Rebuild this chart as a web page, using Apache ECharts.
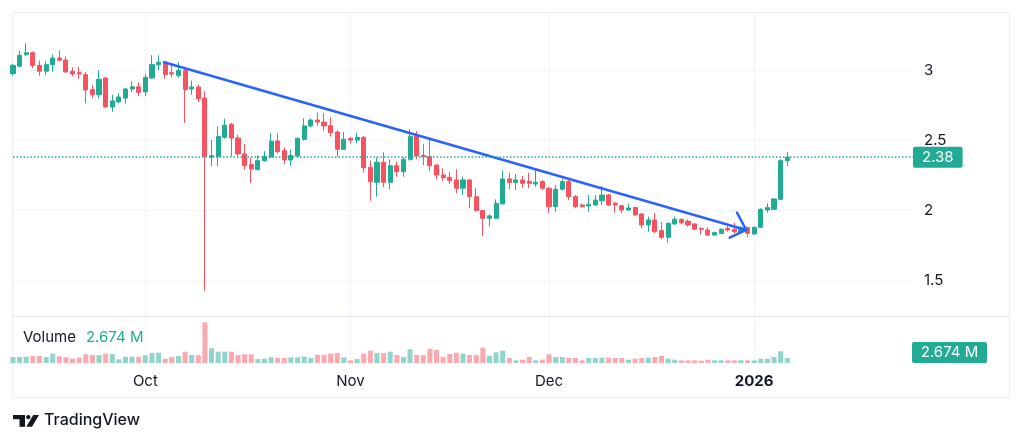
<!DOCTYPE html>
<html>
<head>
    <meta charset="UTF-8">
    <title>Daily candles with volume</title>
    <script src="https://cdn.jsdelivr.net/npm/echarts@6.0.0/dist/echarts.min.js"></script>
    <style>html,body{margin:0;padding:0;background:#fff;}</style>
</head>
<body>

<div id="main" style="width:1024px;height:445px"></div>

<script type="text/javascript">
    // one candle per calendar day, first one is 2025-09-11
    var firstDay = [2025, 8, 11];
    var dayCount = 137;   // empty days are kept on the right side
    var tickDates = ['2025-10-01', '2025-11-01', '2025-12-01', '2026-01-01'];
    var tickLabels = ['Oct', 'Nov', 'Dec', '2026'];

    // [open, close, low, high]
    var ohlc = [
        [2.974, 3.033, 2.960, 3.045], [3.027, 3.105, 3.019, 3.137], [3.109, 3.123, 3.097, 3.190], [3.123, 3.033, 3.014, 3.133],
        [3.033, 2.991, 2.960, 3.066], [2.991, 3.038, 2.964, 3.062], [3.038, 3.085, 2.988, 3.109], [3.085, 3.069, 3.062, 3.140],
        [3.071, 2.986, 2.981, 3.097], [2.991, 2.972, 2.955, 3.019], [2.981, 2.972, 2.938, 3.023], [2.967, 2.858, 2.763, 2.986],
        [2.860, 2.824, 2.800, 2.895], [2.824, 2.934, 2.800, 2.998], [2.943, 2.737, 2.735, 2.950], [2.737, 2.780, 2.703, 2.824],
        [2.773, 2.808, 2.765, 2.836], [2.800, 2.865, 2.760, 2.872], [2.865, 2.880, 2.841, 2.920], [2.880, 2.841, 2.813, 2.912],
        [2.844, 2.948, 2.813, 2.972], [2.943, 3.038, 2.938, 3.105], [3.038, 3.055, 3.000, 3.105], [3.057, 2.967, 2.938, 3.062],
        [2.981, 2.972, 2.948, 3.043], [2.962, 2.998, 2.943, 3.057], [2.995, 2.860, 2.623, 3.014], [2.865, 2.879, 2.824, 2.924],
        [2.879, 2.796, 2.772, 2.895], [2.800, 2.386, 1.430, 2.848], [2.380, 2.390, 2.315, 2.504], [2.386, 2.526, 2.315, 2.600],
        [2.521, 2.607, 2.511, 2.654], [2.614, 2.516, 2.386, 2.623], [2.516, 2.403, 2.386, 2.540], [2.403, 2.320, 2.290, 2.474],
        [2.327, 2.296, 2.196, 2.374], [2.290, 2.355, 2.289, 2.393], [2.355, 2.386, 2.346, 2.422], [2.381, 2.493, 2.379, 2.552],
        [2.495, 2.419, 2.408, 2.550], [2.426, 2.360, 2.331, 2.450], [2.360, 2.391, 2.320, 2.431], [2.388, 2.514, 2.383, 2.519],
        [2.507, 2.602, 2.497, 2.656], [2.602, 2.644, 2.592, 2.656], [2.644, 2.630, 2.602, 2.699], [2.630, 2.602, 2.568, 2.692],
        [2.604, 2.554, 2.526, 2.664], [2.559, 2.436, 2.383, 2.573], [2.436, 2.507, 2.431, 2.559], [2.512, 2.502, 2.479, 2.526],
        [2.502, 2.521, 2.479, 2.554], [2.521, 2.305, 2.270, 2.531], [2.308, 2.206, 2.070, 2.355], [2.201, 2.344, 2.099, 2.379],
        [2.344, 2.201, 2.166, 2.415], [2.201, 2.319, 2.151, 2.365], [2.319, 2.277, 2.241, 2.348], [2.277, 2.365, 2.241, 2.379],
        [2.365, 2.526, 2.355, 2.578], [2.531, 2.388, 2.365, 2.566], [2.393, 2.383, 2.324, 2.472], [2.383, 2.319, 2.282, 2.519],
        [2.324, 2.253, 2.223, 2.329], [2.253, 2.234, 2.210, 2.301], [2.237, 2.213, 2.189, 2.277], [2.218, 2.159, 2.123, 2.294],
        [2.159, 2.218, 2.111, 2.241], [2.218, 2.099, 2.016, 2.225], [2.099, 2.000, 1.992, 2.159], [2.000, 1.945, 1.819, 2.004],
        [1.945, 1.962, 1.886, 1.976], [1.945, 2.052, 1.940, 2.080], [2.047, 2.225, 2.045, 2.284], [2.225, 2.199, 2.151, 2.270],
        [2.199, 2.218, 2.146, 2.260], [2.218, 2.194, 2.163, 2.246], [2.206, 2.194, 2.159, 2.270], [2.189, 2.201, 2.170, 2.290],
        [2.206, 2.159, 2.146, 2.218], [2.159, 2.028, 1.985, 2.170], [2.028, 2.152, 1.992, 2.182], [2.152, 2.206, 2.142, 2.223],
        [2.206, 2.099, 2.075, 2.218], [2.099, 2.028, 2.016, 2.111], [2.040, 2.028, 2.021, 2.052], [2.033, 2.045, 1.992, 2.111],
        [2.040, 2.075, 2.033, 2.111], [2.070, 2.111, 2.040, 2.175], [2.111, 2.040, 2.033, 2.118], [2.052, 2.040, 1.985, 2.063],
        [2.035, 2.004, 1.981, 2.040], [2.004, 2.018, 2.000, 2.047], [2.021, 1.969, 1.962, 2.028], [1.976, 1.898, 1.874, 1.985],
        [1.898, 1.933, 1.850, 1.957], [1.933, 1.850, 1.838, 1.985], [1.857, 1.810, 1.796, 1.921], [1.810, 1.910, 1.772, 1.914],
        [1.905, 1.938, 1.898, 1.957], [1.938, 1.914, 1.902, 1.945], [1.924, 1.898, 1.886, 1.938], [1.905, 1.867, 1.862, 1.910],
        [1.874, 1.867, 1.831, 1.879], [1.862, 1.826, 1.821, 1.881], [1.826, 1.843, 1.821, 1.850], [1.838, 1.867, 1.834, 1.874],
        [1.874, 1.862, 1.850, 1.890], [1.867, 1.850, 1.838, 1.914], [1.843, 1.881, 1.838, 1.886], [1.879, 1.838, 1.810, 1.886],
        [1.834, 1.881, 1.826, 1.886], [1.881, 2.009, 1.874, 2.016], [2.004, 2.021, 1.985, 2.052], [2.009, 2.083, 2.004, 2.087],
        [2.080, 2.355, 2.075, 2.365], [2.355, 2.380, 2.317, 2.417]
    ];

    // daily volume, millions
    var volumes = [
        3.21, 3.21, 3.37, 3.75, 3.75, 3.21, 4.98, 3.58, 3.05, 2.30, 2.84, 4.65, 4.28, 4.28, 4.98, 4.82, 1.98, 3.37, 3.37, 3.37,
        4.12, 5.35, 5.51, 2.30, 3.21, 3.75, 6.05, 4.28, 4.12, 21.77, 7.86, 6.05, 6.05, 6.05, 4.28, 4.65, 4.65, 2.14, 2.30, 3.05,
        2.68, 2.68, 3.05, 3.05, 3.37, 2.68, 4.28, 4.44, 4.98, 5.35, 3.05, 1.44, 2.14, 4.98, 6.58, 5.35, 5.35, 6.05, 4.28, 3.21,
        7.33, 4.28, 4.12, 7.65, 6.96, 3.21, 4.82, 5.51, 4.98, 4.28, 4.28, 8.19, 3.91, 5.72, 6.58, 2.68, 1.44, 1.77, 3.21, 1.44,
        1.77, 4.65, 3.21, 3.21, 2.68, 2.68, 1.44, 2.68, 2.68, 2.84, 2.84, 2.68, 2.68, 1.77, 2.30, 2.68, 2.84, 3.21, 3.75, 2.30,
        1.77, 1.44, 1.44, 1.44, 1.23, 1.77, 1.44, 1.44, 1.44, 1.44, 1.44, 1.44, 1.44, 2.30, 2.30, 3.21, 6.26, 2.674
    ];

    // drawn trend line, [day number, price]
    var trendLine = [[22.7, 3.057], [110.8, 1.862]];
    var trendArrow = [[109.4, 1.985], [110.8, 1.862], [108.3, 1.807]];

    var upColor = '#22ab94';
    var downColor = '#f7525f';
    var textColor = '#131722';
    var gridColor = '#f0f3fa';
    var font = 'Inter, "Noto Sans", sans-serif';
    var fs = 15;

    var dates = [];
    for (var i = 0; i < dayCount; i++) {
        var d = new Date(Date.UTC(firstDay[0], firstDay[1], firstDay[2] + i));
        dates.push(d.toISOString().slice(0, 10));
    }
    function isTick(idx, val) {
        return tickDates.indexOf(val) >= 0;
    }

    var volData = [];
    for (var j = 0; j < volumes.length; j++) {
        var up = ohlc[j][1] >= ohlc[j][0];
        volData.push({
            value: volumes[j],
            itemStyle: {color: up ? 'rgba(34,171,148,0.5)' : 'rgba(247,82,95,0.5)'}
        });
    }
    var lastPrice = ohlc[ohlc.length - 1][1];
    var lastVol = volumes[volumes.length - 1];

    var priceTop = 12, priceH = 305, volTop = 317, volH = 46;
    var plotLeft = 13, plotRight = 111;

    var myChart = echarts.init(document.getElementById('main'));
    var option = {
        animation: false,
        backgroundColor: '#fff',
        textStyle: {fontFamily: font},
        grid: [
            {left: plotLeft, right: plotRight, top: priceTop, height: priceH},
            {left: plotLeft, right: plotRight, top: volTop, height: volH}
        ],
        xAxis: [
            {
                type: 'category', gridIndex: 0, data: dates, boundaryGap: false,
                axisLine: {show: false}, axisTick: {show: false}, axisLabel: {show: false},
                splitLine: {show: true, interval: isTick, lineStyle: {color: gridColor, width: 1}}
            },
            {
                type: 'category', gridIndex: 1, data: dates, boundaryGap: false,
                axisLine: {show: false}, axisTick: {show: false},
                axisLabel: {
                    interval: isTick, margin: 11, color: textColor, fontSize: fs, fontFamily: font,
                    formatter: function (val) {
                        var k = tickDates.indexOf(val);
                        return k === 3 ? '{b|' + tickLabels[k] + '}' : tickLabels[k];
                    },
                    rich: {b: {fontWeight: 'bold', fontSize: fs, color: textColor, fontFamily: font}}
                },
                splitLine: {show: true, interval: isTick, lineStyle: {color: gridColor, width: 1}}
            },
            {type: 'value', gridIndex: 0, position: 'top', min: 0, max: dayCount - 1, show: false}
        ],
        yAxis: [
            {
                type: 'value', gridIndex: 0, position: 'right', min: 1.243, max: 3.4125, splitNumber: 5,
                axisLine: {show: false}, axisTick: {show: false},
                axisLabel: {color: textColor, fontSize: fs, fontFamily: font, margin: 11, showMinLabel: false, showMaxLabel: false},
                splitLine: {lineStyle: {color: gridColor, width: 1}, showMinLine: false, showMaxLine: false}
            },
            {
                type: 'value', gridIndex: 1, min: 0, max: 24.6, show: false,
                splitLine: {show: false}
            }
        ],
        series: [
            {
                type: 'bar', xAxisIndex: 1, yAxisIndex: 1, data: volData,
                barWidth: 5, silent: true
            },
            {
                type: 'candlestick', xAxisIndex: 0, yAxisIndex: 0, data: ohlc,
                barWidth: 4.6, clip: true, silent: true,
                itemStyle: {
                    color: upColor, color0: downColor,
                    borderColor: upColor, borderColor0: downColor, borderWidth: 1
                },
                markLine: {
                    silent: true, symbol: ['none', 'none'],
                    lineStyle: {type: [1.5, 2], color: upColor, width: 1.5, opacity: 1},
                    label: {
                        position: 'end', distance: 0, color: '#fff', fontSize: fs, fontFamily: font,
                        backgroundColor: upColor, padding: [3, 9, 3, 9], lineHeight: 15, borderRadius: 2,
                        formatter: function () { return lastPrice.toFixed(2); }
                    },
                    data: [{yAxis: lastPrice, lineStyle: {color: upColor}}]
                }
            },
            {
                type: 'line', xAxisIndex: 2, yAxisIndex: 0, data: trendLine,
                showSymbol: false, silent: true,
                lineStyle: {color: '#2962ff', width: 2.5}
            },
            {
                type: 'line', xAxisIndex: 2, yAxisIndex: 0, data: trendArrow,
                showSymbol: false, silent: true,
                lineStyle: {color: '#2962ff', width: 2.5, join: 'round', cap: 'round'}
            }
        ]
    };
    myChart.setOption(option);

    // last volume box on the right scale, kept inside the pane
    var vy = myChart.convertToPixel({yAxisIndex: 1}, lastVol);
    var boxH = 21;
    var boxTop = Math.min(vy - boxH / 2, volTop + volH - boxH);

    myChart.setOption({
        graphic: [
            {
                id: 'frame', type: 'rect', silent: true, z: -1,
                shape: {x: 12.5, y: 12.5, width: 997, height: 385},
                style: {fill: 'none', stroke: '#eceef2', lineWidth: 1}
            },
            {
                id: 'sep', type: 'line', silent: true,
                shape: {x1: 12, y1: 316.5, x2: 1010, y2: 316.5},
                style: {stroke: '#e0e3eb', lineWidth: 1}
            },
            {
                id: 'volLegend', type: 'text', left: 23, top: 330, silent: true,
                style: {
                    text: '{a|Volume}   {v|' + lastVol.toFixed(3) + ' M}',
                    rich: {
                        a: {fill: textColor, fontSize: fs, fontFamily: font},
                        v: {fill: upColor, fontSize: fs, fontFamily: font}
                    }
                }
            },
            {
                id: 'volBox', type: 'group', x: 912, y: boxTop, silent: true,
                children: [
                    {type: 'rect', shape: {x: 0, y: 0, width: 75, height: boxH, r: 2}, style: {fill: upColor}},
                    {
                        type: 'text', x: 37.5, y: boxH / 2,
                        style: {
                            text: lastVol.toFixed(3) + ' M', fill: '#fff', fontSize: fs, fontFamily: font,
                            align: 'center', verticalAlign: 'middle'
                        }
                    }
                ]
            },
            // TradingView mark
            {id: 'logo1', type: 'rect', silent: true, shape: {x: 13, y: 415, width: 12, height: 4.2}, style: {fill: textColor}},
            {id: 'logo2', type: 'rect', silent: true, shape: {x: 19.5, y: 415, width: 5.5, height: 11.8}, style: {fill: textColor}},
            {id: 'logo3', type: 'circle', silent: true, shape: {cx: 28.3, cy: 417.1, r: 2.2}, style: {fill: textColor}},
            {id: 'logo4', type: 'polygon', silent: true, shape: {points: [[33.2, 415], [39, 415], [32, 426.8], [26.4, 426.8]]}, style: {fill: textColor}},
            {
                id: 'logoText', type: 'text', left: 44, top: 412, silent: true,
                style: {text: 'TradingView', fill: textColor, fontSize: 16, fontFamily: font, fontWeight: 500}
            }
        ]
    });
</script>
</body>
</html>
